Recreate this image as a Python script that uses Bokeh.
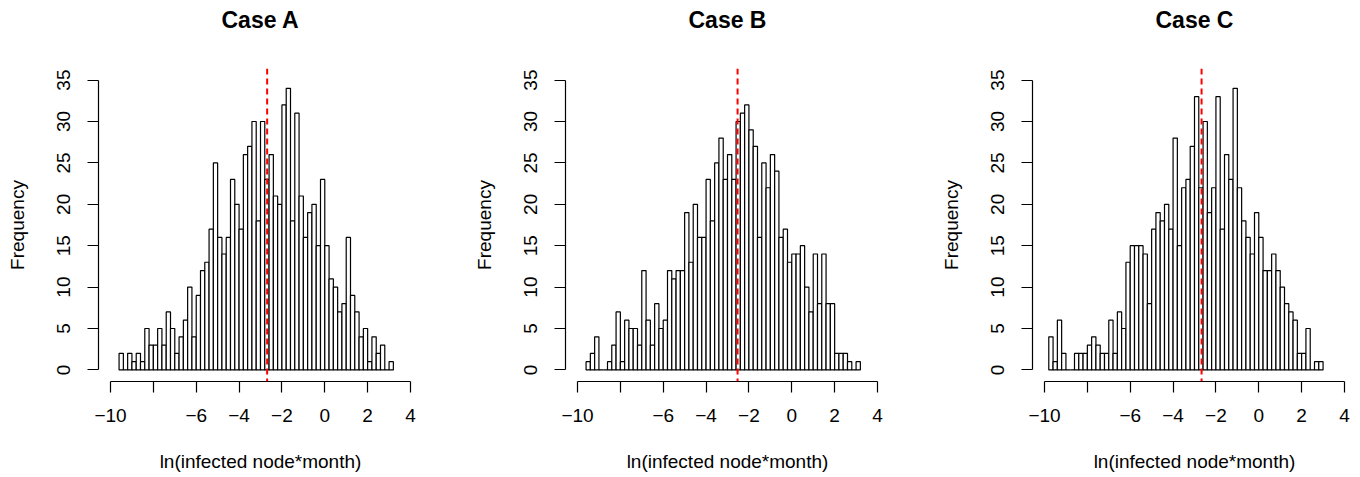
from bokeh.plotting import figure
from bokeh.layouts import row
from bokeh.models import FixedTicker, Span, LinearAxis
from bokeh.embed import file_html
from bokeh.resources import INLINE

# ---------------- data ----------------
titles = ["Case A", "Case B", "Case C"]
bin_width = 0.2
bin_starts = [-9.6, -9.6, -9.8]

counts_a = [2, 0, 2, 1, 2, 1, 5, 3, 3, 5,
            3, 7, 5, 2, 4, 6, 10, 4, 9, 12,
            13, 17, 25, 16, 14, 16, 23, 20, 17, 26,
            27, 30, 18, 30, 23, 26, 21, 20, 32, 34,
            18, 31, 21, 16, 19, 20, 15, 23, 15, 11,
            10, 7, 8, 16, 9, 7, 4, 5, 1, 4,
            2, 3, 0, 1]

counts_b = [1, 2, 4, 0, 0, 1, 3, 7, 1, 6,
            5, 5, 3, 12, 6, 3, 8, 5, 6, 12,
            11, 12, 12, 19, 13, 20, 16, 16, 23, 18,
            25, 28, 23, 26, 23, 30, 31, 32, 29, 27,
            16, 25, 22, 26, 24, 16, 17, 13, 14, 14,
            15, 10, 7, 14, 8, 14, 8, 8, 2, 2,
            2, 1, 0, 1]

counts_c = [4, 1, 6, 2, 0, 0, 2, 2, 2, 3,
            4, 3, 2, 2, 6, 2, 7, 5, 13, 15,
            15, 15, 14, 8, 17, 19, 18, 20, 17, 28,
            15, 22, 23, 27, 33, 22, 30, 19, 22, 33,
            17, 26, 23, 34, 22, 18, 16, 14, 19, 16,
            12, 12, 14, 12, 10, 8, 7, 6, 2, 2,
            5, 0, 1, 1]

mean_lines = [-2.69, -2.53, -2.67]

x_ticks = [-10, -8, -6, -4, -2, 0, 2, 4]
x_tick_labels = ["\u221210", "", "\u22126", "\u22124", "\u22122", "0", "2", "4"]
y_ticks = [0, 5, 10, 15, 20, 25, 30, 35]
y_tick_labels = ["0", "5", "10", "15", "20", "25", "30", "35"]

x_label = "ln(infected node*month)"
y_label = "Frequency"

FONT = "Liberation Sans"


def panel(title, start, counts, mean, right_border):
    p = figure(frame_width=324, frame_height=313,
               min_border_left=98, min_border_right=right_border,
               min_border_top=68, min_border_bottom=96,
               x_range=(-10.56, 4.56), y_range=(-1.4, 36.4),
               output_backend="svg", toolbar_location=None)
    p.title = None
    p.outline_line_color = None
    p.grid.visible = False
    p.background_fill_color = "white"
    p.border_fill_color = "white"

    left = [start + i * bin_width for i in range(len(counts))]
    right = [l + bin_width for l in left]
    p.quad(left=left, right=right, bottom=0, top=counts,
           fill_color="white", line_color="black", line_width=1.2)

    p.add_layout(Span(location=mean, dimension="height", line_color="red",
                      line_dash="6 4", line_width=2))

    xa = p.below[0]
    ya = p.left[0]
    xa.ticker = FixedTicker(ticks=x_ticks)
    xa.bounds = (-10, 4)
    xa.major_label_overrides = dict(zip(x_ticks, x_tick_labels))
    ya.ticker = FixedTicker(ticks=y_ticks)
    ya.bounds = (0, 35)
    ya.major_label_overrides = dict(zip(y_ticks, y_tick_labels))
    ya.major_label_orientation = "vertical"
    for ax in (xa, ya):
        ax.major_tick_out = 11
        ax.major_tick_in = 0
        ax.minor_tick_out = 0
        ax.minor_tick_in = 0
        ax.axis_line_width = 1.2
        ax.major_tick_line_width = 1.2
        ax.major_label_text_font = FONT
        ax.major_label_text_font_size = "19px"
        ax.major_label_text_color = "black"
        ax.axis_label_text_font = FONT
        ax.axis_label_text_font_size = "19px"
        ax.axis_label_text_font_style = "normal"
        ax.axis_label_text_color = "black"
    xa.major_label_standoff = 16
    ya.major_label_standoff = 17
    xa.axis_label = x_label
    xa.axis_label_standoff = 26
    ya.axis_label = y_label
    ya.axis_label_standoff = 27

    # main title drawn as the label of a bare axis above the frame
    top = LinearAxis(ticker=FixedTicker(ticks=[]), axis_line_color=None,
                     major_tick_line_color=None, minor_tick_line_color=None,
                     major_label_text_font_size="0px",
                     major_tick_out=0, major_tick_in=0,
                     minor_tick_out=0, minor_tick_in=0,
                     major_label_standoff=0,
                     axis_label=title, axis_label_standoff=36,
                     axis_label_text_font=FONT,
                     axis_label_text_font_size="23px",
                     axis_label_text_font_style="bold",
                     axis_label_text_color="black")
    p.add_layout(top, "above")
    return p


pa = panel(titles[0], bin_starts[0], counts_a, mean_lines[0], 45)
pb = panel(titles[1], bin_starts[1], counts_b, mean_lines[1], 45)
pc = panel(titles[2], bin_starts[2], counts_c, mean_lines[2], 4)

layout = row(pa, pb, pc)
open("out.html", "w").write(file_html(layout, INLINE))
